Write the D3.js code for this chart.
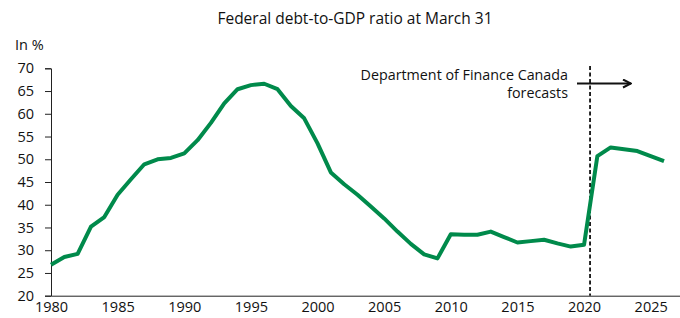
<!DOCTYPE html>
<html>
<head>
<meta charset="utf-8">
<script src="https://cdn.jsdelivr.net/npm/d3@7"></script>
<style>
  body { margin: 0; background: #fff; }
  text { font-family: "Open Sans", "Noto Sans", sans-serif; fill: #111; }
</style>
</head>
<body>
<div id="chart"></div>
<script>
// fiscal years (at March 31) and debt-to-GDP ratio in %
var years = [1980,1981,1982,1983,1984,1985,1986,1987,1988,1989,
             1990,1991,1992,1993,1994,1995,1996,1997,1998,1999,
             2000,2001,2002,2003,2004,2005,2006,2007,2008,2009,
             2010,2011,2012,2013,2014,2015,2016,2017,2018,2019,
             2020,2021,2022,2023,2024,2025,2026];
var ratio = [26.8,28.5,29.2,35.2,37.3,42.2,45.6,48.9,50.0,50.3,
             51.3,54.2,58.0,62.3,65.4,66.3,66.6,65.4,61.7,59.0,
             53.5,47.1,44.5,42.2,39.6,37.0,34.1,31.4,29.1,28.2,
             33.5,33.4,33.4,34.1,32.9,31.7,32.0,32.3,31.5,30.8,
             31.2,50.7,52.6,52.2,51.8,50.7,49.6];
var yTicks = [20,25,30,35,40,45,50,55,60,65,70];
var xTicks = [1980,1985,1990,1995,2000,2005,2010,2015,2020,2025];
var forecastStart = 2020.45;

var width = 680,
    height = 318;

var svg = d3.select("#chart")
  .append("svg")
  .attr("width", width)
  .attr("height", height);

// scales
var x = d3.scaleLinear().domain([1980, 2027.2]).range([51, 680]);
var y = d3.scaleLinear().domain([20, 70]).range([295.7, 68.3]);

// title
svg.append("text")
  .attr("x", 355)
  .attr("y", 24)
  .attr("text-anchor", "middle")
  .style("font-size", "15.5px")
  .text("Federal debt-to-GDP ratio at March 31");

svg.append("text")
  .attr("x", 15)
  .attr("y", 50)
  .style("font-size", "14.5px")
  .text("In %");

// y axis
var yAxis = svg.append("g")
  .attr("transform", "translate(51,0)")
  .call(d3.axisLeft(y).tickValues(yTicks).tickSize(6).tickPadding(11));
yAxis.select(".domain").attr("stroke", "#222");
yAxis.selectAll(".tick line").attr("stroke", "#222");
yAxis.selectAll(".tick text")
  .style("font-size", "14.5px")
  .style("font-family", "'Open Sans', 'Noto Sans', sans-serif")
  .attr("fill", "#111");

// x axis
var xAxis = svg.append("g")
  .attr("transform", "translate(0," + y(20) + ")")
  .call(d3.axisBottom(x).tickValues(xTicks).tickFormat(d3.format("d")).tickSize(0).tickPadding(6));
xAxis.select(".domain").attr("stroke", "#222");
xAxis.selectAll(".tick text")
  .style("font-size", "14.5px")
  .style("font-family", "'Open Sans', 'Noto Sans', sans-serif")
  .attr("fill", "#111");

// forecast marker
svg.append("line")
  .attr("x1", x(forecastStart))
  .attr("x2", x(forecastStart))
  .attr("y1", 66)
  .attr("y2", y(20))
  .attr("stroke", "#111")
  .attr("stroke-width", 1.8)
  .attr("stroke-dasharray", "4,2.5");

svg.append("defs").append("marker")
  .attr("id", "arrow")
  .attr("viewBox", "0 0 10 10")
  .attr("refX", 9)
  .attr("refY", 5)
  .attr("markerWidth", 5)
  .attr("markerHeight", 5)
  .attr("orient", "auto")
  .append("path")
  .attr("d", "M1,1 L9,5 L1,9")
  .attr("fill", "none")
  .attr("stroke", "#111")
  .attr("stroke-width", 2);

svg.append("line")
  .attr("x1", 577)
  .attr("x2", 631)
  .attr("y1", 83.5)
  .attr("y2", 83.5)
  .attr("stroke", "#111")
  .attr("stroke-width", 2)
  .attr("marker-end", "url(#arrow)");

var note = svg.append("text")
  .attr("text-anchor", "end")
  .style("font-size", "14.3px");
note.append("tspan").attr("x", 568).attr("y", 80).text("Department of Finance Canada");
note.append("tspan").attr("x", 568).attr("y", 97.5).text("forecasts");

// the series
var data = years.map(function(d, i) { return {year: d, value: ratio[i]}; });

var line = d3.line()
  .x(function(d) { return x(d.year); })
  .y(function(d) { return y(d.value); });

svg.append("path")
  .datum(data)
  .attr("d", line)
  .attr("fill", "none")
  .attr("stroke", "#008a4b")
  .attr("stroke-width", 4)
  .attr("stroke-linejoin", "round");
</script>
</body>
</html>
